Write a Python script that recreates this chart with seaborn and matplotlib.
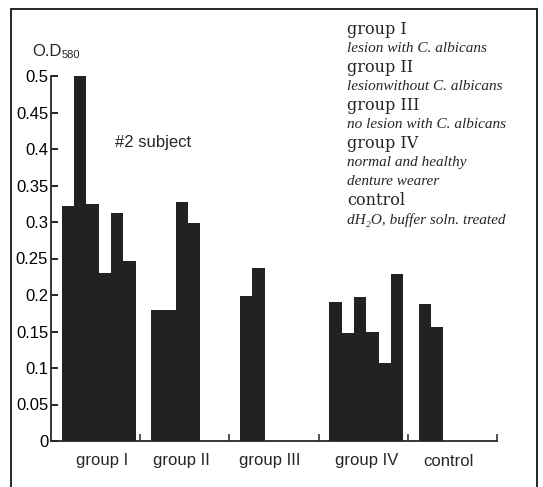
import numpy as np
import pandas as pd
import matplotlib
matplotlib.use('Agg')
import matplotlib.pyplot as plt
import seaborn as sns
from matplotlib.patches import Rectangle

# values (O.D 580), one list per group
groups   = ['group I', 'group II', 'group III', 'group IV', 'control']
group_1  = [0.322, 0.500, 0.325, 0.230, 0.313, 0.247]
group_2  = [0.180, 0.180, 0.327, 0.298]
group_3  = [0.198, 0.237]
group_4  = [0.190, 0.148, 0.197, 0.150, 0.107, 0.229]
control  = [0.187, 0.156]
y_ticks  = [0, 0.05, 0.1, 0.15, 0.2, 0.25, 0.3, 0.35, 0.4, 0.45, 0.5]

legend_lines = [
    ('group I', 'normal'),
    ('lesion with C. albicans', 'italic'),
    ('group II', 'normal'),
    ('lesionwithout C. albicans', 'italic'),
    ('group III', 'normal'),
    ('no lesion with C. albicans', 'italic'),
    ('group IV', 'normal'),
    ('normal and healthy', 'italic'),
    ('denture wearer', 'italic'),
    ('control', 'normal'),
    ('dH\u2082O, buffer soln. treated', 'italic'),
]

# layout (slot units: each group gets one unit along x)
bar_w = 0.138
start = 0.12
label_pos = [0.57, 1.46, 2.45, 3.54, 4.45]

rows = []
for k, vals in enumerate([group_1, group_2, group_3, group_4, control]):
    for i, v in enumerate(vals):
        rows.append({'group': groups[k], 'pos': round(k + start + bar_w * (i + 0.5), 4), 'od': v})
df = pd.DataFrame(rows)

sns.set_style('ticks')
plt.rcParams['font.family'] = ['Liberation Sans', 'DejaVu Sans']

W, H = 543, 487
fig = plt.figure(figsize=(W / 100, H / 100), dpi=100)
ax = fig.add_axes([51 / W, (H - 441) / H, 446 / W, 365 / H])

sns.barplot(data=df, x='pos', y='od', native_scale=True, width=1.0,
            color='#222222', saturation=1, errorbar=None, linewidth=0, ax=ax)

ax.set_xlim(0, 5)
ax.set_ylim(0, 0.5)
ax.set_xlabel('')
ax.set_ylabel('')
for s in ['top', 'right']:
    ax.spines[s].set_visible(False)
ax.spines['left'].set_linewidth(1.3)
ax.spines['bottom'].set_linewidth(1.3)

ax.set_yticks(y_ticks)
ax.set_yticklabels([f'{t:g}' for t in y_ticks], fontsize=12)
ax.tick_params(axis='y', direction='in', length=5, width=1.2, pad=2, colors='black')

ax.set_xticks([1, 2, 3, 4, 5])
ax.set_xticklabels([])
ax.tick_params(axis='x', which='major', direction='in', length=5, width=1.1)
ax.set_xticks(label_pos, minor=True)
ax.set_xticklabels(groups, minor=True, fontsize=12)
ax.tick_params(axis='x', which='minor', length=0, pad=9)

fig.text(32 / W, 1 - 52 / H, 'O.D', fontsize=12, va='center', ha='left')
fig.text(62 / W, 1 - 55 / H, '580', fontsize=8, va='center', ha='left')
fig.text(115 / W, 1 - 142 / H, '#2 subject', fontsize=12, va='center', ha='left')

y = 29.5
for txt, style in legend_lines:
    if style == 'normal':
        fig.text(347 / W, 1 - y / H, txt, fontsize=11.5, va='center', ha='left',
                 family=['DejaVu Serif'])
    else:
        fig.text(347 / W, 1 - y / H, txt, fontsize=11, va='center', ha='left',
                 style='italic', family=['Liberation Serif', 'DejaVu Serif'])
    y += 19.05

fig.add_artist(Rectangle((11 / W, -0.1), 526 / W, 1.1 - 9 / H, transform=fig.transFigure,
                         fill=False, edgecolor='black', linewidth=1.2))

plt.savefig('out.png', dpi=100)
plt.close()
